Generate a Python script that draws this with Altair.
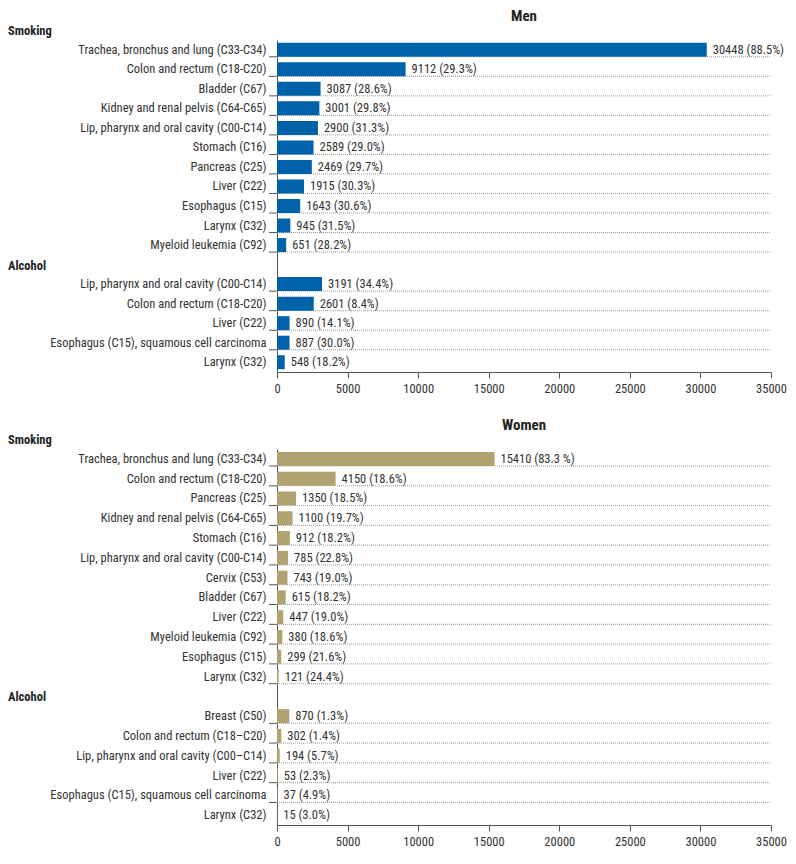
import altair as alt
import pandas as pd

FONT = "Liberation Sans Narrow, Roboto Condensed, Arial Narrow, Liberation Sans, sans-serif"

men_smoking_names = ["Trachea, bronchus and lung (C33-C34)", "Colon and rectum (C18-C20)", "Bladder (C67)",
                     "Kidney and renal pelvis (C64-C65)", "Lip, pharynx and oral cavity (C00-C14)", "Stomach (C16)",
                     "Pancreas (C25)", "Liver (C22)", "Esophagus (C15)", "Larynx (C32)", "Myeloid leukemia (C92)"]
men_smoking_values = [30448, 9112, 3087, 3001, 2900, 2589, 2469, 1915, 1643, 945, 651]
men_smoking_pct = ["88.5%", "29.3%", "28.6%", "29.8%", "31.3%", "29.0%", "29.7%", "30.3%", "30.6%", "31.5%", "28.2%"]

men_alcohol_names = ["Lip, pharynx and oral cavity (C00-C14)", "Colon and rectum (C18-C20)", "Liver (C22)",
                     "Esophagus (C15), squamous cell carcinoma", "Larynx (C32)"]
men_alcohol_values = [3191, 2601, 890, 887, 548]
men_alcohol_pct = ["34.4%", "8.4%", "14.1%", "30.0%", "18.2%"]

women_smoking_names = ["Trachea, bronchus and lung (C33-C34)", "Colon and rectum (C18-C20)", "Pancreas (C25)",
                       "Kidney and renal pelvis (C64-C65)", "Stomach (C16)", "Lip, pharynx and oral cavity (C00-C14)",
                       "Cervix (C53)", "Bladder (C67)", "Liver (C22)", "Myeloid leukemia (C92)", "Esophagus (C15)",
                       "Larynx (C32)"]
women_smoking_values = [15410, 4150, 1350, 1100, 912, 785, 743, 615, 447, 380, 299, 121]
women_smoking_pct = ["83.3 %", "18.6%", "18.5%", "19.7%", "18.2%", "22.8%", "19.0%", "18.2%", "19.0%", "18.6%",
                     "21.6%", "24.4%"]

women_alcohol_names = ["Breast (C50)", "Colon and rectum (C18\u2013C20)", "Lip, pharynx and oral cavity (C00\u2013C14)",
                       "Liver (C22)", "Esophagus (C15), squamous cell carcinoma", "Larynx (C32)"]
women_alcohol_values = [870, 302, 194, 53, 37, 15]
women_alcohol_pct = ["1.3%", "1.4%", "5.7%", "2.3%", "4.9%", "3.0%"]

x_ticks = [0, 2500, 5000, 7500, 10000, 12500, 15000, 17500, 20000, 22500, 25000, 27500, 30000, 32500, 35000]


def build_df(s_names, s_vals, s_pct, a_names, a_vals, a_pct):
    rows = []
    for i, (n, v, p) in enumerate(zip(s_names, s_vals, s_pct)):
        rows.append(dict(key=f"S{i:02d}|{n}", name=n, value=v, label=f"{v} ({p})", real=True,
                         grid=True))
    rows.append(dict(key="H|", name="", value=None, label="", real=False, grid=False))
    for i, (n, v, p) in enumerate(zip(a_names, a_vals, a_pct)):
        rows.append(dict(key=f"A{i:02d}|{n}", name=n, value=v, label=f"{v} ({p})", real=True,
                         grid=i < len(a_names) - 1))
    return pd.DataFrame(rows)


def panel(df, title, color, height):
    order = list(df["key"])
    y = alt.Y("key:N", sort=order, title=None,
              scale=alt.Scale(paddingInner=0.28, paddingOuter=0.14),
              axis=alt.Axis(ticks=False, grid=False, domain=True, domainColor="#555", domainWidth=1,
                            labelExpr="split(datum.value, '|')[1]", labelPadding=11, labelFontSize=12.5,
                            labelFont=FONT, labelColor="#333", labelLimit=300))
    x = alt.X("value:Q", title=None,
              scale=alt.Scale(domain=[0, 35000], nice=False),
              axis=alt.Axis(values=x_ticks, grid=False, domainColor="#555", tickColor="#555", tickSize=6,
                            labelExpr="datum.value % 5000 === 0 ? datum.value : ''",
                            format="d", labelFontSize=12.5, labelFont=FONT, labelColor="#333",
                            labelPadding=4, labelFlush=False))
    base = alt.Chart(df)
    real = base.transform_filter("datum.real")
    bars = real.mark_bar(color=color, size=14).encode(y=y, x=x)
    labels = real.mark_text(align="left", dx=6, font=FONT, fontSize=12.5, color="#333").encode(
        y=alt.Y("key:N", sort=order), x="value:Q", text="label:N")
    gdf = base.transform_filter("datum.grid")
    grid = gdf.mark_rule(color="#9a9a9a", strokeDash=[1, 1], strokeWidth=1).encode(
        y=alt.Y("key:N", sort=order, bandPosition=1), x=alt.value(0), x2=alt.value(494))
    ticks = gdf.mark_rule(color="#555", strokeWidth=1).encode(
        y=alt.Y("key:N", sort=order, bandPosition=1), x=alt.value(-8), x2=alt.value(0))
    smoking = alt.Chart(pd.DataFrame({"key": [order[0]], "txt": ["Smoking"]})).mark_text(
        align="left", baseline="middle", dy=-19, font=FONT, fontSize=12.5,
        fontWeight="bold", color="#222").encode(
        y=alt.Y("key:N", sort=order), x=alt.value(-269), text="txt:N")
    alcohol = alt.Chart(pd.DataFrame({"key": ["H|"], "txt": ["Alcohol"]})).mark_text(
        align="left", baseline="middle", dy=1, font=FONT, fontSize=12.5,
        fontWeight="bold", color="#222").encode(
        y=alt.Y("key:N", sort=order), x=alt.value(-269), text="txt:N")
    return alt.layer(grid, ticks, bars, labels, smoking, alcohol).properties(
        width=494, height=height,
        title=alt.TitleParams(title, font=FONT, fontSize=15, fontWeight="bold", color="#222",
                              anchor="middle", offset=1))


men_df = build_df(men_smoking_names, men_smoking_values, men_smoking_pct,
                  men_alcohol_names, men_alcohol_values, men_alcohol_pct)
women_df = build_df(women_smoking_names, women_smoking_values, women_smoking_pct,
                    women_alcohol_names, women_alcohol_values, women_alcohol_pct)

chart = alt.vconcat(
    panel(men_df, "Men", "#0062A9", 332),
    panel(women_df, "Women", "#B1A36F", 376),
    spacing=22,
).properties(padding=0).configure_view(stroke=None).resolve_scale(y="independent")

chart.save("out.html", embed_options={"renderer": "svg", "actions": False})
